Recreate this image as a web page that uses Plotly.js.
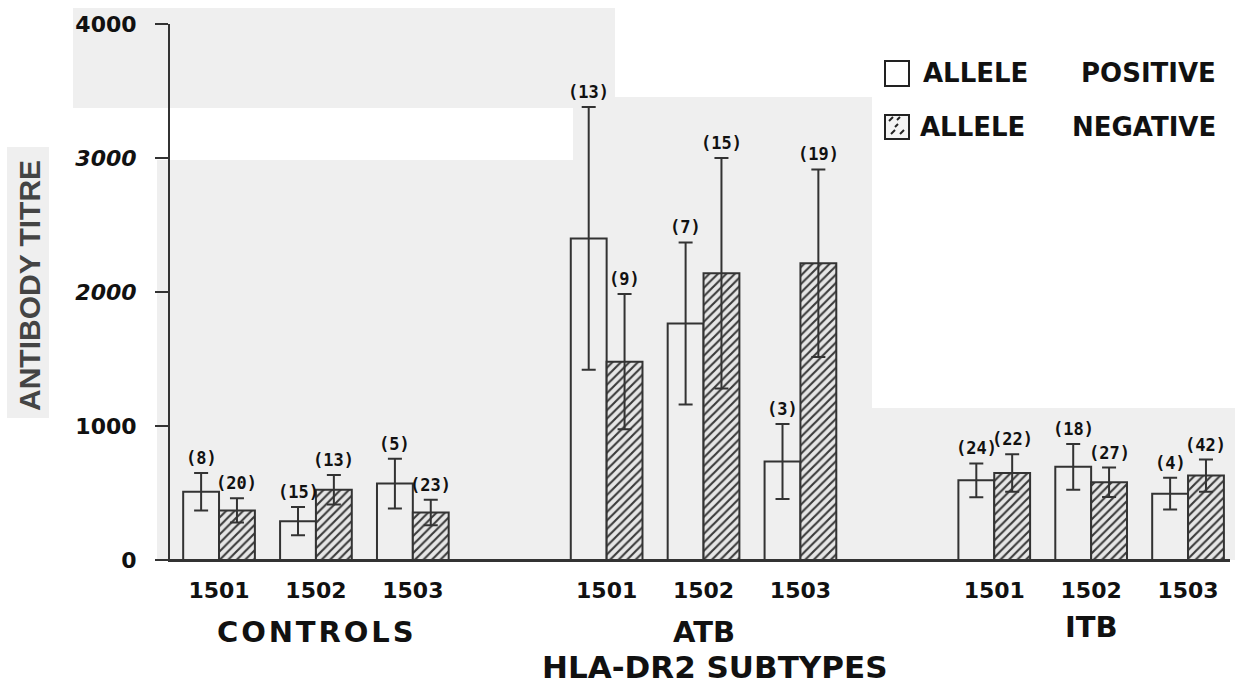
<!DOCTYPE html>
<html>
<head>
<meta charset="utf-8">
<script src="https://cdn.plot.ly/plotly-3.0.1.min.js"></script>
<style>html,body{margin:0;padding:0;background:#fff;}</style>
</head>
<body>
<div id="chart" style="width:1235px;height:687px;"></div>
<script>
// ---- data ----
const subtypes = ['1501', '1502', '1503'];
const groups = ['CONTROLS', 'ATB', 'ITB'];
const posMean = [510, 290, 570, 2400, 1765, 735, 595, 695, 495];
const posErr  = [140, 105, 185, 980, 605, 280, 126, 170, 118];
const negMean = [370, 525, 355, 1480, 2140, 2215, 650, 580, 630];
const negErr  = [90, 110, 95, 505, 860, 700, 140, 110, 120];
const posN = [8, 15, 5, 13, 7, 3, 24, 18, 4];
const negN = [20, 13, 23, 9, 15, 19, 22, 27, 42];
const yTickVals = [0, 1000, 2000, 3000, 4000];
const yTickText = ['0', '1000', '<i>2000</i>', '<i>3000</i>', '4000'];

// ---- positions (group slot layout) ----
const xs = [];
const xLabels = [];
groups.forEach((g, gi) => subtypes.forEach((s, si) => { xs.push(gi * 4 + si); xLabels.push(s); }));
const groupCenters = groups.map((g, gi) => gi * 4 + 1);

const W = 1235, H = 687, ML = 170, MR = 5, MT = 24, MB = 127;
const PW = W - ML - MR, PH = H - MT - MB;
const px2x = p => (p - ML) / PW;
const py2y = p => (H - MB - p) / PH;

const lineCol = '#333';
const txtCol = '#111';
const boldFont = (size, fam) => ({family: fam || 'DejaVu Sans', size: size, color: txtCol, weight: 'bold'});

const traces = [
  {
    type: 'bar', x: xs, y: posMean, name: 'ALLELE POSITIVE', showlegend: false,
    marker: {color: 'rgba(255,255,255,0)', line: {color: lineCol, width: 2}},
    error_y: {type: 'data', array: posErr, visible: true, color: lineCol, thickness: 2, width: 7},
    hoverinfo: 'skip'
  },
  {
    type: 'bar', x: xs, y: negMean, name: 'ALLELE NEGATIVE', showlegend: false,
    marker: {color: '#e9e9e9', line: {color: lineCol, width: 2},
      pattern: {shape: '/', fgcolor: '#3a3a3a', bgcolor: '#e6e6e6', size: 6, solidity: 0.35}},
    error_y: {type: 'data', array: negErr, visible: true, color: lineCol, thickness: 2, width: 7},
    hoverinfo: 'skip'
  }
];

const half = (1 - 0.26) / 4;
const annotations = [];
xs.forEach((x, i) => {
  annotations.push({x: x - half, y: posMean[i] + posErr[i], xref: 'x', yref: 'y', text: '(' + posN[i] + ')',
    showarrow: false, yanchor: 'bottom', yshift: 3, font: boldFont(17, 'DejaVu Sans Mono')});
  annotations.push({x: x + half, y: negMean[i] + negErr[i], xref: 'x', yref: 'y', text: '(' + negN[i] + ')',
    showarrow: false, yanchor: 'bottom', yshift: 3, font: boldFont(17, 'DejaVu Sans Mono')});
});
const groupY = [632, 632, 627];
groups.forEach((g, gi) => {
  const t = g === 'CONTROLS' ? g.split('').join('\u200A') : g;
  annotations.push({x: groupCenters[gi], y: py2y(groupY[gi]), xref: 'x', yref: 'paper', text: t,
    showarrow: false, xanchor: 'center', yanchor: 'middle', font: boldFont(29)});
});
annotations.push({x: px2x(714), y: py2y(667), xref: 'paper', yref: 'paper', text: 'HLA-DR2 SUBTYPES',
  showarrow: false, xanchor: 'center', yanchor: 'middle', font: boldFont(31)});
annotations.push({x: px2x(29), y: py2y(286), xref: 'paper', yref: 'paper', text: 'ANTIBODY TITRE', textangle: -90,
  showarrow: false, xanchor: 'center', yanchor: 'middle',
  font: {family: 'Liberation Sans, Arial, sans-serif', size: 30, color: '#444', weight: 'bold'}});
// legend text
annotations.push({x: px2x(921), y: py2y(73), xref: 'paper', yref: 'paper', text: 'ALLELE', showarrow: false, xanchor: 'left', yanchor: 'middle', font: boldFont(26)});
annotations.push({x: px2x(1079), y: py2y(73), xref: 'paper', yref: 'paper', text: 'POSITIVE', showarrow: false, xanchor: 'left', yanchor: 'middle', font: boldFont(26)});
annotations.push({x: px2x(918), y: py2y(127), xref: 'paper', yref: 'paper', text: 'ALLELE', showarrow: false, xanchor: 'left', yanchor: 'middle', font: boldFont(26)});
annotations.push({x: px2x(1070), y: py2y(127), xref: 'paper', yref: 'paper', text: 'NEGATIVE', showarrow: false, xanchor: 'left', yanchor: 'middle', font: boldFont(26)});

const bg = '#efefef';
const rectPx = (x0, x1, y0, y1, extra) => Object.assign({type: 'rect', xref: 'paper', yref: 'paper',
  x0: px2x(x0), x1: px2x(x1), y0: py2y(y1), y1: py2y(y0), layer: 'below', fillcolor: bg, line: {width: 0}}, extra || {});
const shapes = [
  rectPx(73, 615, 8, 108),
  rectPx(7, 49, 147, 418),
  rectPx(157, 872, 160, 560),
  rectPx(573, 872, 97, 160),
  rectPx(872, 1235, 408, 560),
  // baseline extension to the left of the y axis
  {type: 'line', xref: 'paper', yref: 'y', x0: px2x(157), x1: 1, y0: 0, y1: 0, line: {color: lineCol, width: 2}},
  // legend swatches
  rectPx(885, 909, 61, 86, {layer: 'above', fillcolor: '#ffffff', line: {color: '#222', width: 2}}),
  rectPx(885, 909, 115, 139, {layer: 'above', fillcolor: '#f4f4f4', line: {color: '#222', width: 2}})
];
// hatch dashes in negative legend swatch
[[889, 121, 893, 117], [897, 120, 900, 117], [891, 134, 895, 130], [900, 134, 904, 130], [895, 127, 898, 124]].forEach(d => {
  shapes.push({type: 'line', xref: 'paper', yref: 'paper', x0: px2x(d[0]), y0: py2y(d[1]), x1: px2x(d[2]), y1: py2y(d[3]),
    line: {color: '#222', width: 2}});
});

const layout = {
  width: W, height: H,
  margin: {l: ML, r: MR, t: MT, b: MB, pad: 0},
  paper_bgcolor: '#ffffff', plot_bgcolor: 'rgba(0,0,0,0)',
  barmode: 'group', bargap: 0.26, bargroupgap: 0,
  showlegend: false,
  xaxis: {
    range: [-0.506, 10.433], tickvals: groupCenters.flatMap(c => [c - 1, c, c + 1]), ticktext: xLabels,
    showline: true, linewidth: 2, linecolor: lineCol, ticks: '', showgrid: false, zeroline: false,
    tickfont: boldFont(22), ticklabelstandoff: 10, fixedrange: true
  },
  yaxis: {
    range: [0, 4000], tickvals: yTickVals, ticktext: yTickText,
    showline: true, linewidth: 2, linecolor: lineCol, ticks: 'outside', ticklen: 13, tickwidth: 2, tickcolor: lineCol,
    showgrid: false, zeroline: false, tickfont: boldFont(22), ticklabelstandoff: 14, fixedrange: true
  },
  shapes: shapes,
  annotations: annotations
};

Plotly.newPlot('chart', traces, layout, {displayModeBar: false, staticPlot: true});
</script>
</body>
</html>
